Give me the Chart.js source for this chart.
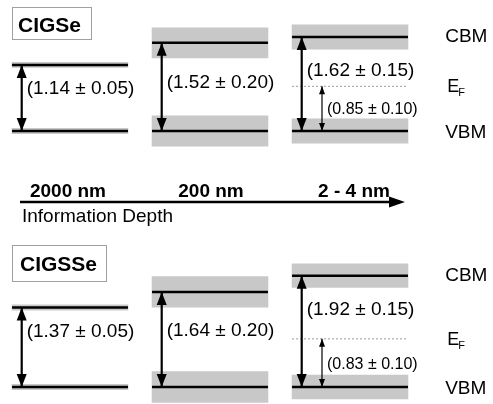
<!DOCTYPE html>
<html>
<head>
<meta charset="utf-8">
<script src="https://cdn.jsdelivr.net/npm/chart.js@4.4.1/dist/chart.umd.min.js"></script>
<style>
  html, body { margin: 0; padding: 0; background: #fff; }
  body { width: 493px; height: 404px; position: relative; overflow: hidden; }
  canvas { position: absolute; left: 0; }
  #cigse { top: 0; }
  #cigsse { top: 236px; }
  svg { position: absolute; left: 0; top: 0; }
  svg text { font-family: "Liberation Sans", Arial, sans-serif; fill: #000; }
</style>
</head>
<body>
<canvas id="cigse" width="493" height="170"></canvas>
<canvas id="cigsse" width="493" height="168"></canvas>
<svg width="493" height="404">
  <rect x="12.5" y="7.5" width="79" height="32" fill="#fff" stroke="#a0a0a0"/>
  <text x="18" y="32" font-size="21" font-weight="bold">CIGSe</text>
  <rect x="12.5" y="245.5" width="94" height="36" fill="#fff" stroke="#a0a0a0"/>
  <text x="20" y="271" font-size="21" font-weight="bold">CIGSSe</text>

  <line x1="20" y1="202" x2="392" y2="202" stroke="#000" stroke-width="2.5"/>
  <polygon points="389,196.5 405,202 389,207.5" fill="#000"/>
  <text id="d0" x="68" y="197" font-size="19" font-weight="bold" text-anchor="middle"></text>
  <text id="d1" x="211" y="197" font-size="19" font-weight="bold" text-anchor="middle"></text>
  <text id="d2" x="354" y="197" font-size="19" font-weight="bold" text-anchor="middle"></text>
  <text x="22" y="222" font-size="19">Information Depth</text>
</svg>
<script>
// information depth of each measurement column
const depthLabels = ["2000 nm", "200 nm", "2 - 4 nm"];

// band gaps (eV) and their errors, per column
const cigseGap = [1.14, 1.52, 1.62];
const cigseGapErr = [0.05, 0.20, 0.15];
const cigsseGap = [1.37, 1.64, 1.92];
const cigsseGapErr = [0.05, 0.20, 0.15];

// half height of the gray band round each band edge (eV)
const cigseSpread = [0.045, 0.26, 0.21];
const cigsseSpread = [0.045, 0.265, 0.205];

// Fermi level above VBM at the surface: drawn position, label value, error (eV)
const fermiDrawn = [0.77, 0.83];
const fermiValue = [0.85, 0.83];
const fermiErr = [0.10, 0.10];

// layout
const FONT = '"Liberation Sans", Arial, sans-serif';
const PX_PER_EV = 58;
const PX_PER_COL = 140;
const FIRST_COL_PX = 70;
const COL_HALF = 0.414;
const ARROW_DX = -0.345;
const SMALL_DX = -0.2;
const NAME_X = 2.68;

depthLabels.forEach((t, i) => {
  document.getElementById("d" + i).textContent = t;
});

// plugin:: filled arrow heads on both ends of datasets with a "head" size
const arrowHeads = {
  id: "arrowHeads",
  afterDatasetsDraw(chart) {
    const ctx = chart.ctx;
    chart.data.datasets.forEach((ds, i) => {
      if (!ds.head) return;
      const pts = chart.getDatasetMeta(i).data;
      const [w, h] = ds.head;
      ctx.save();
      ctx.fillStyle = "#000";
      [[pts[0], pts[1]], [pts[pts.length - 1], pts[pts.length - 2]]].forEach(([tip, from]) => {
        const dir = Math.sign(from.y - tip.y);
        ctx.beginPath();
        ctx.moveTo(tip.x, tip.y);
        ctx.lineTo(tip.x - w / 2, tip.y + dir * h);
        ctx.lineTo(tip.x + w / 2, tip.y + dir * h);
        ctx.closePath();
        ctx.fill();
      });
      ctx.restore();
    });
  },
};

function makePanel(id, gap, gapErr, spread, k, labelAt, vbmPx) {
  const canvas = document.getElementById(id);
  const h = canvas.height;
  const cols = depthLabels.map((_, i) => i);

  // gray bands round VBM and CBM
  const bands = [];
  cols.forEach((i) => {
    bands.push({ x: i, y: [-spread[i], spread[i]] });
    bands.push({ x: i, y: [gap[i] - spread[i], gap[i] + spread[i]] });
  });

  // black band edges
  const edges = [];
  cols.forEach((i) => {
    [0, gap[i]].forEach((e) => {
      edges.push({ x: i - COL_HALF, y: e }, { x: i + COL_HALF, y: e }, { x: i + COL_HALF, y: null });
    });
  });

  const datasets = [
    {
      type: "bar",
      data: bands,
      backgroundColor: "#c8c8c8",
      borderWidth: 0,
      barThickness: 2 * COL_HALF * PX_PER_COL,
      order: 3,
    },
    {
      type: "line",
      data: [
        { x: 2 - COL_HALF, y: fermiDrawn[k] },
        { x: 2 + COL_HALF, y: fermiDrawn[k] },
      ],
      borderColor: "#999",
      borderWidth: 1,
      borderDash: [2, 2],
      pointRadius: 0,
      order: 2,
    },
    {
      type: "line",
      data: edges,
      borderColor: "#000",
      borderWidth: 2.5,
      pointRadius: 0,
      spanGaps: false,
      order: 1,
    },
  ];

  // gap arrows
  cols.forEach((i) => {
    datasets.push({
      type: "line",
      data: [
        { x: i + ARROW_DX, y: 0 },
        { x: i + ARROW_DX, y: gap[i] },
      ],
      borderColor: "#000",
      borderWidth: 2.2,
      pointRadius: 0,
      head: [10, 13],
      order: 0,
    });
  });
  // Fermi level arrow
  datasets.push({
    type: "line",
    data: [
      { x: 2 + SMALL_DX, y: 0 },
      { x: 2 + SMALL_DX, y: fermiDrawn[k] },
    ],
    borderColor: "#000",
    borderWidth: 1.2,
    pointRadius: 0,
    head: [6, 8],
    order: 0,
  });

  // plugin:: value labels and level names
  const bandText = {
    id: "bandText",
    afterDraw(chart) {
      const { ctx, scales: { x, y } } = chart;
      ctx.save();
      ctx.fillStyle = "#000";
      ctx.textAlign = "left";
      ctx.textBaseline = "middle";
      ctx.font = `19px ${FONT}`;
      cols.forEach((i) => {
        ctx.fillText(
          `(${gap[i].toFixed(2)} ± ${gapErr[i].toFixed(2)})`,
          x.getPixelForValue(i + ARROW_DX) + 5,
          y.getPixelForValue(labelAt[i])
        );
      });
      ctx.font = `16px ${FONT}`;
      ctx.fillText(
        `(${fermiValue[k].toFixed(2)} ± ${fermiErr[k].toFixed(2)})`,
        x.getPixelForValue(2 + SMALL_DX) + 5,
        y.getPixelForValue(labelAt[3])
      );

      const nx = x.getPixelForValue(NAME_X);
      ctx.font = `19px ${FONT}`;
      ctx.fillText("CBM", nx, y.getPixelForValue(gap[2]));
      ctx.fillText("VBM", nx, y.getPixelForValue(0) + 2);
      ctx.textBaseline = "alphabetic";
      const ey = y.getPixelForValue(fermiDrawn[k]);
      ctx.font = `18px ${FONT}`;
      ctx.fillText("E", nx + 2, ey + 6);
      ctx.font = `11px ${FONT}`;
      ctx.fillText("F", nx + 13, ey + 10);
      ctx.restore();
    },
  };

  return new Chart(canvas, {
    type: "line",
    data: { datasets },
    options: {
      responsive: false,
      animation: false,
      events: [],
      layout: { padding: 0 },
      plugins: { legend: { display: false }, tooltip: { enabled: false } },
      scales: {
        x: {
          type: "linear",
          display: false,
          offset: false,
          min: -FIRST_COL_PX / PX_PER_COL,
          max: (canvas.width - FIRST_COL_PX) / PX_PER_COL,
        },
        y: {
          type: "linear",
          display: false,
          min: -(h - vbmPx) / PX_PER_EV,
          max: vbmPx / PX_PER_EV,
        },
      },
    },
    plugins: [arrowHeads, bandText],
  });
}

// label heights (eV above VBM): three gap labels, then the Fermi label
makePanel("cigse", cigseGap, cigseGapErr, cigseSpread, 0, [0.72, 0.83, 1.03, 0.37], 131);
makePanel("cigsse", cigsseGap, cigsseGapErr, cigsseSpread, 1, [0.95, 0.97, 1.34, 0.39], 151);
</script>
</body>
</html>
